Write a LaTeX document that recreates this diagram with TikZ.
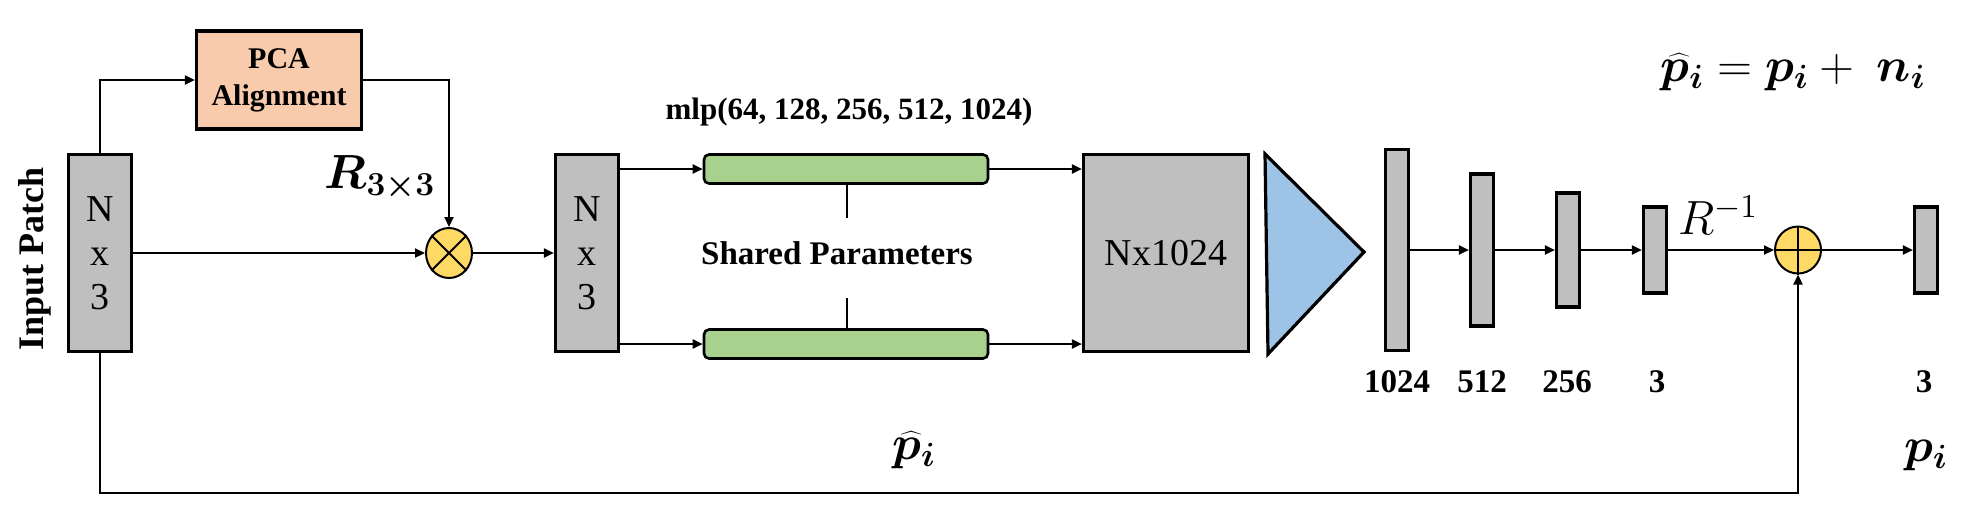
\RequirePackage{fix-cm}
\documentclass[tikz,border=0pt]{standalone}
\usepackage{bm}
\usepackage{fontspec}
\setmainfont{Liberation Serif}
\usetikzlibrary{arrows.meta,shapes.geometric,positioning}

\definecolor{boxgray}{HTML}{BFBFBF}
\definecolor{pcaorange}{HTML}{F8CBAD}
\definecolor{mlpgreen}{HTML}{A9D18E}
\definecolor{poolblue}{HTML}{9DC3E6}
\definecolor{opyellow}{HTML}{FFD966}

\tikzset{
  graybox/.style={draw, fill=boxgray, line width=1.6pt, inner sep=0pt, align=center,
    font=\fontsize{19}{22}\selectfont},
  featbox/.style={graybox, minimum width=31.5pt, minimum height=98.5pt},
  fcbar/.style={draw, fill=boxgray, line width=1.6pt, inner sep=0pt, minimum width=11.5pt},
  mlpbar/.style={draw, fill=mlpgreen, line width=1.3pt, rounded corners=2.5pt,
    minimum width=142pt, minimum height=14.5pt, inner sep=0pt},
  opnode/.style={ellipse, draw, fill=opyellow, line width=1pt, inner sep=0pt,
    minimum width=23pt, minimum height=25pt},
  boldlabel/.style={font=\bfseries\fontsize{15}{18.5}\selectfont, align=center},
  dimlabel/.style={font=\bfseries\fontsize{16.5}{19}\selectfont},
  mathlabel/.style={font=\fontsize{24}{28}\selectfont}
}

\begin{document}
\begin{tikzpicture}[x=0.5pt, y=-0.5pt, line width=1pt, >={Triangle[length=5pt,width=4.5pt]}]
  \useasboundingbox (0,0) rectangle (1973,516);

  % Input patch and PCA alignment
  \node[featbox] (inp) at (100,253) {N\\x\\3};
  \node[boldlabel, font=\bfseries\fontsize{18}{20}\selectfont, rotate=90] (inplabel) at (35,259) {Input Patch};
  \node[draw, fill=pcaorange, line width=1.6pt, minimum width=82.5pt, minimum height=49pt,
    inner sep=0pt, boldlabel] (pca) at (279,80) {PCA\\Alignment};
  \node[opnode] (mul) at (449,253) {};
  \draw (mul.45) -- (mul.225) (mul.135) -- (mul.315);
  \node[mathlabel] (rot) at (380,178) {$\bm{R}_{\bm{3\times 3}}$};
  \draw[->] (inp.north) |- (pca.west);
  \draw[->] (pca.east) -| (mul.north);
  \draw[->] (inp.east) -- (mul.west);

  % Aligned patch
  \node[featbox] (aligned) at (587,253) {N\\x\\3};
  \draw[->] (mul.east) -- (aligned.west);

  % Shared mlp
  \node[mlpbar] (mlpA) at (846,169) {};
  \node[mlpbar] (mlpB) at (846,344) {};
  \node[boldlabel, font=\bfseries\fontsize{15.5}{18}\selectfont] (mlplabel) at (849,112) {mlp(64, 128, 256, 512, 1024)};
  \node[boldlabel, font=\bfseries\fontsize{16.5}{19}\selectfont] (shared) at (837,253) {Shared Parameters};
  \coordinate (stubA) at (847,218);
  \coordinate (stubB) at (847,298);
  \draw (mlpA.south -| stubA) -- (stubA);
  \draw (stubB) -- (mlpB.north -| stubB);
  \draw[->] (aligned.east |- mlpA.west) -- (mlpA.west);
  \draw[->] (aligned.east |- mlpB.west) -- (mlpB.west);

  % Point features and max pooling
  \node[featbox, minimum width=82.5pt] (feat) at (1166,253) {Nx1024};
  \draw[->] (mlpA.east) -- (mlpA.east -| feat.west);
  \draw[->] (mlpB.east) -- (mlpB.east -| feat.west);
  \draw[fill=poolblue, line width=1.6pt] (1265,154) -- (1364,252) -- (1268,354) -- cycle;

  % Fully connected layers
  \node[fcbar, minimum height=100.5pt] (fc1) at (1397,250) {};
  \node[fcbar, minimum height=76pt] (fc2) at (1482,250) {};
  \node[fcbar, minimum height=57pt] (fc3) at (1568,250) {};
  \node[fcbar, minimum height=43pt] (fc4) at (1655,250) {};
  \node[opnode, minimum height=23.5pt] (add) at (1798,250) {};
  \draw (add.north) -- (add.south) (add.west) -- (add.east);
  \node[fcbar, minimum height=43pt] (out) at (1926,250) {};
  \draw[->] (fc1.east) -- (fc2.west);
  \draw[->] (fc2.east) -- (fc3.west);
  \draw[->] (fc3.east) -- (fc4.west);
  \draw[->] (fc4.east) -- (add.west);
  \draw[->] (add.east) -- (out.west);
  \node[mathlabel] (rinv) at (1718,215) {$R^{-1}$};

  % Layer sizes
  \node[dimlabel] (d1) at (1397,382) {1024};
  \node[dimlabel] (d2) at (1482,382) {512};
  \node[dimlabel] (d3) at (1567,382) {256};
  \node[dimlabel] (d4) at (1657,382) {3};
  \node[dimlabel] (d5) at (1924,382) {3};

  % Skip connection
  \coordinate (loopy) at (0,493);
  \draw[->] (inp.south) -- (inp.south |- loopy) -| (add.south);
  \node[mathlabel] (phat) at (914,450) {$\widehat{\bm{p}}_{\bm{i}}$};
  \node[mathlabel] (pout) at (1926,455) {$\bm{p}_{\bm{i}}$};
  \node[mathlabel] (noise) at (1793,72) {$\widehat{\bm{p}}_{\bm{i}} = \bm{p}_{\bm{i}} + \ \bm{n}_{\bm{i}}$};
\end{tikzpicture}
\end{document}
